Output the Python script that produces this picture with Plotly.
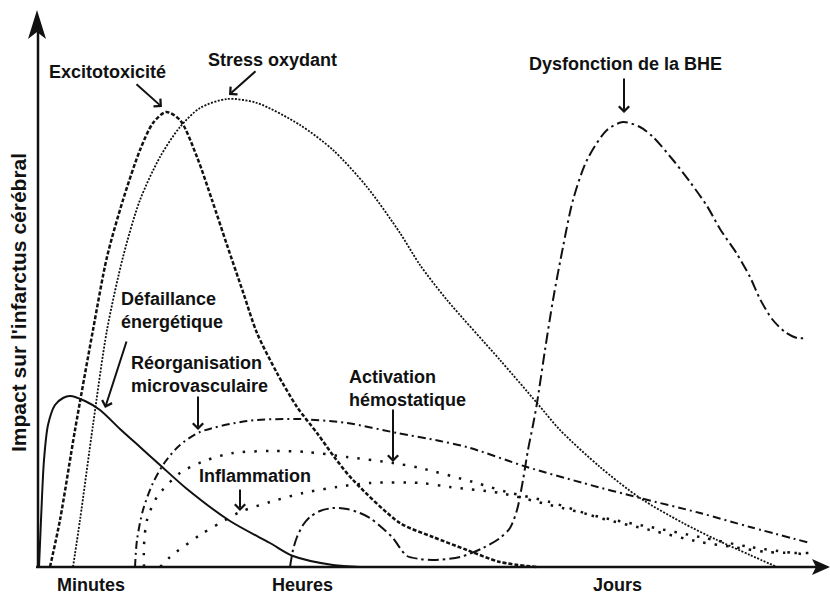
import plotly.graph_objects as go

FONT = "Liberation Sans, Arial, Helvetica, sans-serif"

# ---- data (time: arbitrary units, impact: arbitrary units) ----
tick_vals = [53, 264, 579]
tick_text = ["Minutes", "Heures", "Jours"]

defaillance_t = [1, 3, 6, 10, 17, 25, 32, 47, 62, 82, 102, 122, 149, 192, 232, 255, 295, 322]
defaillance_v = [0, 47, 107, 142, 162, 169, 171, 166, 157, 138, 120, 102, 78, 46, 24, 11, 2, 0]

excito_t = [12, 22, 37, 55, 69, 85, 102, 115, 128, 142, 159, 174, 189, 205, 219, 239, 259, 279, 297, 315, 362, 395, 429, 462, 499]
excito_v = [0, 47, 137, 237, 310, 367, 417, 444, 455, 447, 410, 367, 322, 275, 234, 194, 160, 134, 109, 87, 44, 30, 17, 5, 0]

stress_t = [35, 42, 55, 69, 85, 102, 122, 142, 162, 189, 219, 262, 295, 329, 362, 382, 409, 462, 499, 522, 562, 602, 645, 679, 712, 739]
stress_v = [0, 47, 142, 237, 310, 367, 410, 440, 459, 468, 464, 442, 417, 380, 334, 302, 267, 207, 164, 137, 100, 69, 44, 27, 12, 0]

reorg_t = [97, 99, 105, 115, 127, 142, 162, 209, 259, 309, 359, 402, 429, 489, 545, 602, 662, 712, 772]
reorg_v = [0, 27, 57, 84, 105, 122, 135, 146, 148, 144, 134, 126, 120, 100, 84, 69, 54, 40, 24]

activ_t = [106, 106, 109, 119, 142, 169, 195, 232, 269, 309, 355, 382, 435, 469, 512, 562, 612, 662, 695, 729, 772]
activ_v = [0, 22, 47, 70, 94, 107, 114, 116, 115, 110, 104, 99, 85, 75, 65, 49, 37, 25, 20, 15, 14]

inflam_t = [122, 132, 162, 182, 202, 232, 265, 299, 332, 382, 412, 462, 512, 562, 612, 662, 712, 772]
inflam_v = [0, 10, 32, 44, 55, 65, 74, 80, 84, 84, 80, 74, 62, 50, 40, 30, 20, 12]

bhe_t = [252, 255, 259, 265, 272, 282, 295, 309, 322, 332, 342, 355, 362, 369, 382, 395, 422, 445, 462, 472,
         479, 485, 490, 495, 499, 507, 515, 525, 535, 549, 569, 585, 602, 615, 635, 652, 669, 682, 699, 712,
         722, 734, 747, 759, 767]
bhe_v = [0, 17, 30, 42, 50, 56, 59, 58, 54, 49, 41, 29, 19, 11, 8, 7, 10, 19, 29, 39,
         57, 87, 117, 142, 164, 217, 267, 320, 367, 407, 437, 445, 440, 430, 407, 385, 361, 338, 313, 290,
         268, 248, 235, 229, 229]

series = [
    ("Défaillance énergétique", defaillance_t, defaillance_v, dict(width=2, dash="solid")),
    ("Excitotoxicité", excito_t, excito_v, dict(width=2.5, dash="4px,2px")),
    ("Stress oxydant", stress_t, stress_v, dict(width=1.8, dash="2px,1.5px")),
    ("Réorganisation microvasculaire", reorg_t, reorg_v, dict(width=2, dash="8px,4px,2px,4px")),
    ("Activation hémostatique", activ_t, activ_v, dict(width=2.5, dash="2.5px,9px")),
    ("Inflammation", inflam_t, inflam_v, dict(width=2.5, dash="2.5px,9px")),
    ("Dysfonction de la BHE", bhe_t, bhe_v, dict(width=2, dash="11px,4px,2.5px,4px")),
]

fig = go.Figure()
for name, t, v, style in series:
    fig.add_trace(go.Scatter(
        x=t, y=v, mode="lines", name=name, hoverinfo="name",
        line=dict(color="#111111", shape="spline", smoothing=0.8, **style),
    ))

label_font = dict(family=FONT, size=18, color="#111111", weight="bold")

# labels: (text, x, y, xanchor)
labels = [
    ("Excitotoxicité", 69, 495, "center"),
    ("Stress oxydant", 234, 507, "center"),
    ("Dysfonction de la BHE", 587, 503, "center"),
    ("Défaillance<br>énergétique", 81, 257, "left"),
    ("Réorganisation<br>microvasculaire", 91, 193, "left"),
    ("Activation<br>hémostatique", 309, 179, "left"),
    ("Inflammation", 217, 91, "center"),
]
annotations = []
for text, x, y, xa in labels:
    annotations.append(dict(text=text, x=x, y=y, xref="x", yref="y", showarrow=False,
                            xanchor=xa, yanchor="middle", align="left", font=label_font))

# time-scale labels under the axis
for val, txt in zip(tick_vals, tick_text):
    annotations.append(dict(text=txt, x=val, y=-18, xref="x", yref="y", showarrow=False,
                            xanchor="center", yanchor="middle", font=label_font))

# pointer arrows: (tail_x, tail_y, tip_x, tip_y)
pointers = [
    (97, 484, 124, 460),
    (219, 497, 191, 472),
    (586, 490, 586, 454),
    (89, 227, 67, 159),
    (160, 172, 160, 137),
    (355, 159, 355, 105),
    (202, 79, 202, 56),
]
for ax, ay, x, y in pointers:
    annotations.append(dict(text="", x=x, y=y, ax=ax, ay=ay, xref="x", yref="y",
                            axref="x", ayref="y", showarrow=True, arrowhead=4,
                            arrowsize=1, arrowwidth=2, arrowcolor="#111111", standoff=0))

annotations.append(dict(text="Impact sur l'infarctus cérébral", x=-20, y=264, xref="x", yref="y",
                        showarrow=False, textangle=-90,
                        font=dict(family=FONT, size=21, color="#111111", weight="bold")))

shapes = [
    dict(type="line", x0=-2, y0=0, x1=778, y1=0, xref="x", yref="y", line=dict(color="#111111", width=2.5)),
    dict(type="path", path="M 792 0 L 774 8 L 778 0 L 774 -8 Z", xref="x", yref="y",
         fillcolor="#111111", line=dict(width=0)),
    dict(type="line", x0=0, y0=-1, x1=0, y1=540, xref="x", yref="y", line=dict(color="#111111", width=2.5)),
    dict(type="path", path="M -1 557 L -10 528 L -1 535 L 8 528 Z", xref="x", yref="y",
         fillcolor="#111111", line=dict(width=0)),
]

fig.update_layout(
    width=830, height=596,
    margin=dict(l=0, r=0, t=0, b=0),
    paper_bgcolor="white", plot_bgcolor="white",
    showlegend=False,
    annotations=annotations,
    shapes=shapes,
    xaxis=dict(range=[-38, 792], showgrid=False, zeroline=False, showline=False,
               showticklabels=False, ticks="", fixedrange=True),
    yaxis=dict(range=[-29, 567], showgrid=False, zeroline=False, showline=False,
               showticklabels=False, ticks="", fixedrange=True),
)

fig.write_html(
    "out.html",
    config={"displayModeBar": False},
    post_script="document.body.style.margin='0px';document.body.style.overflow='hidden';",
)
